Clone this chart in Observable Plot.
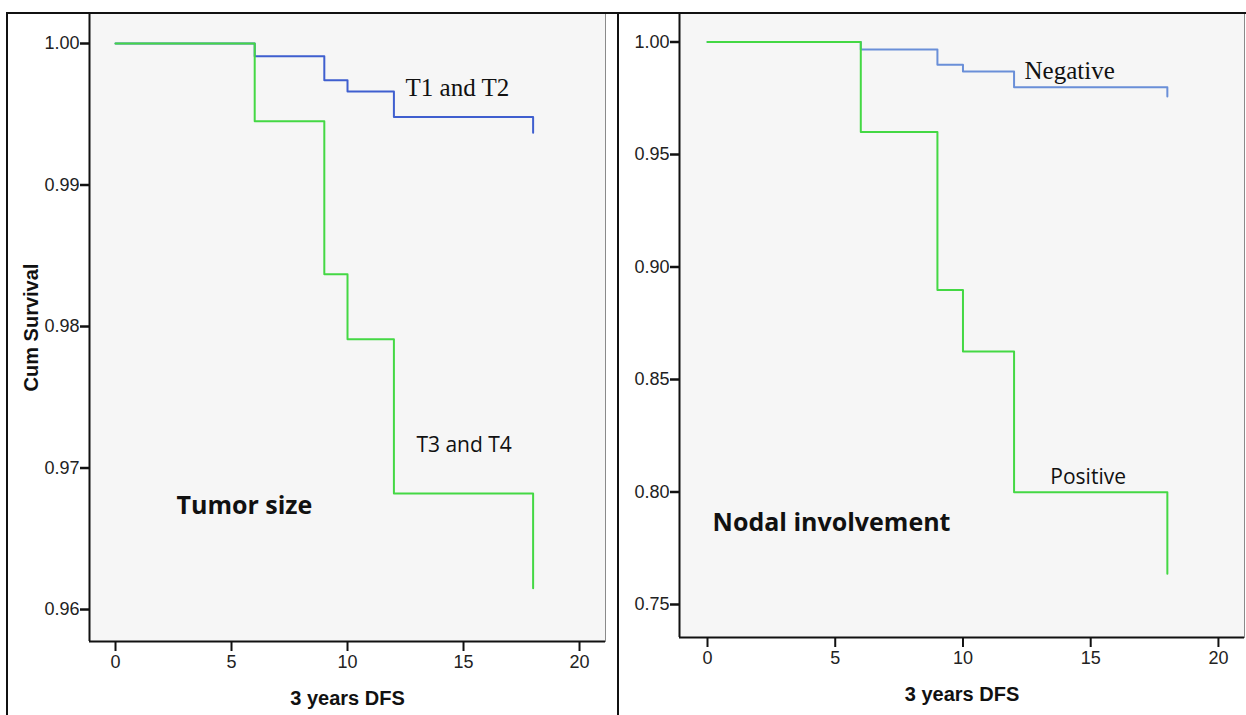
<!DOCTYPE html>
<html>
<head>
<meta charset="utf-8">
<script src="https://cdn.jsdelivr.net/npm/d3@7"></script>
<script src="https://cdn.jsdelivr.net/npm/@observablehq/plot@0.6"></script>
<style>
  html, body { margin: 0; padding: 0; background: #fff; }
  #wrap { position: relative; width: 1246px; height: 715px; overflow: hidden; background: #fff; }
  .panel { position: absolute; top: 0; }
  .bline { position: absolute; background: #111; }
</style>
</head>
<body>
<div id="wrap">
  <div id="left" class="panel" style="left:0px"></div>
  <div id="right" class="panel" style="left:618px"></div>
  <div class="bline" style="left:6px; top:12px; width:1240px; height:2px"></div>
  <div class="bline" style="left:6px; top:12px; width:2px; height:703px"></div>
  <div class="bline" style="left:617px; top:12px; width:2px; height:703px"></div>
</div>
<script>
// ---- data ----
const times = [0, 6, 9, 10, 12, 18];
const tumorT12 = [1.0, 0.9991, 0.9974, 0.9966, 0.9948, 0.9937];
const tumorT34 = [1.0, 0.9945, 0.9837, 0.9791, 0.9682, 0.9615];
const nodalNeg = [1.0, 0.9967, 0.9899, 0.9869, 0.9799, 0.9758];
const nodalPos = [1.0, 0.9600, 0.8898, 0.8624, 0.7999, 0.7637];

const xTicks = [0, 5, 10, 15, 20];
const tumorYTicks = [0.96, 0.97, 0.98, 0.99, 1.00];
const nodalYTicks = [0.75, 0.80, 0.85, 0.90, 0.95, 1.00];

const xTitle = "3 years DFS";
const yTitle = "Cum Survival";

const tumorLabels = [
  {text: "T1 and T2", x: 12.5, y: 0.99682, kind: "serif"},
  {text: "T3 and T4", x: 12.97, y: 0.97163, kind: "sans"},
  {text: "Tumor size", x: 2.63, y: 0.96735, kind: "title"}
];
const nodalLabels = [
  {text: "Negative", x: 12.41, y: 0.98733, kind: "serif"},
  {text: "Positive", x: 13.42, y: 0.80667, kind: "sans"},
  {text: "Nodal involvement", x: 0.2, y: 0.78644, kind: "title"}
];

const blueL = "#3f5fcf", blueR = "#6a8fd8", green = "#44d844";
const tickFont = "'Liberation Sans Narrow', 'Arial Narrow', 'Liberation Sans', Arial, sans-serif";

function series(vals) { return times.map((t, i) => ({t, s: vals[i]})); }

function labelMarks(labels) {
  const fam = {serif: "'Liberation Serif', 'Times New Roman', serif",
               sans: "'Open Sans', 'Noto Sans', sans-serif",
               title: "'Open Sans', 'Noto Sans', sans-serif"};
  const size = {serif: 25, sans: 21, title: 25};
  const weight = {serif: "normal", sans: "normal", title: "bold"};
  return ["serif", "sans", "title"].map(k => Plot.text(labels.filter(d => d.kind === k), {
    x: "x", y: "y", text: "text", textAnchor: "start", lineAnchor: "middle",
    fontFamily: fam[k], fontSize: size[k], fontWeight: weight[k], fill: "#111"
  }));
}

function panel({width, height, mL, mR, mT, mB, xDom, yDom, yTicks, upper, lower, upperColor, labels, yLabel}) {
  return Plot.plot({
    width, height,
    marginLeft: mL, marginRight: mR, marginTop: mT, marginBottom: mB,
    style: {background: "transparent", fontFamily: tickFont, fontSize: "18px", color: "#111", overflow: "visible"},
    x: {domain: xDom},
    y: {domain: yDom},
    marks: [
      Plot.frame({fill: "#f6f6f6", stroke: "#8a8a8a", strokeWidth: 1}),
      Plot.ruleX([xDom[0]], {stroke: "#111", strokeWidth: 2}),
      Plot.ruleY([yDom[0]], {stroke: "#111", strokeWidth: 2}),
      Plot.line(series(upper), {x: "t", y: "s", curve: "step-after", stroke: upperColor, strokeWidth: 2}),
      Plot.line(series(lower), {x: "t", y: "s", curve: "step-after", stroke: green, strokeWidth: 2}),
      Plot.axisX({ticks: xTicks, tickSize: 10, tickPadding: 4, strokeWidth: 2, fontSize: 18, label: null, fill: "#222"}),
      Plot.axisY({ticks: yTicks, tickFormat: d3.format(".2f"), tickSize: 9, tickPadding: 1, strokeWidth: 2.5, fontSize: 18, label: null, fill: "#222"}),
      Plot.text([xTitle], {frameAnchor: "bottom", dy: 57, lineAnchor: "middle", fontFamily: "'Liberation Sans', Arial, sans-serif", fontWeight: "bold", fontSize: 20, fill: "#111"}),
      yLabel ? Plot.text([yLabel], {frameAnchor: "left", dx: -58, rotate: -90, textAnchor: "middle", lineAnchor: "middle", fontFamily: "'Liberation Sans', Arial, sans-serif", fontWeight: "bold", fontSize: 20, fill: "#111"}) : null,
      ...labelMarks(labels)
    ]
  });
}

document.getElementById("left").append(panel({
  width: 618, height: 715, mL: 89, mR: 13, mT: 13, mB: 74,
  xDom: [-1.121, 21.12], yDom: [0.95774, 1.00212], yTicks: tumorYTicks,
  upper: tumorT12, lower: tumorT34, upperColor: blueL, labels: tumorLabels, yLabel: yTitle
}));

document.getElementById("right").append(panel({
  width: 628, height: 715, mL: 61, mR: 2, mT: 13, mB: 78,
  xDom: [-1.096, 21.02], yDom: [0.73533, 1.01267], yTicks: nodalYTicks,
  upper: nodalNeg, lower: nodalPos, upperColor: blueR, labels: nodalLabels, yLabel: null
}));
</script>
</body>
</html>
